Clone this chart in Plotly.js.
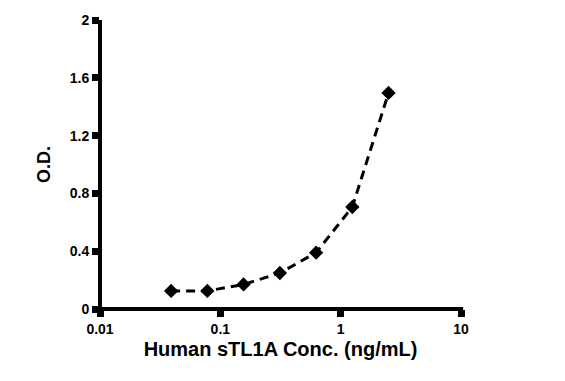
<!DOCTYPE html>
<html><head><script src="https://cdn.plot.ly/plotly-3.0.1.min.js"></script>
<style>body{margin:0}</style></head><body>
<div id="chart" style="width:565px;height:381px"></div>
<script>
const conc = [0.039, 0.078, 0.156, 0.3125, 0.625, 1.25, 2.5];
const od = [0.125, 0.125, 0.17, 0.249, 0.39, 0.706, 1.495];
const xTicks = [0.01, 0.1, 1, 10];
const xTickText = ['0.01', '0.1', '1', '10'];
const yTicks = [0, 0.4, 0.8, 1.2, 1.6, 2];
const yTickText = ['0', '0.4', '0.8', '1.2', '1.6', '2'];

Plotly.newPlot('chart', [{
  x: conc, y: od, type: 'scatter', mode: 'lines+markers',
  line: {color: '#000', width: 3, dash: '9px,6px'},
  marker: {symbol: 'diamond', size: 11, color: '#000'}
}], {
  width: 565, height: 381,
  margin: {l: 100, r: 104, t: 20, b: 72},
  paper_bgcolor: '#fff', plot_bgcolor: '#fff',
  showlegend: false,
  font: {family: 'Liberation Sans', color: '#000'},
  shapes: [
    {type: 'line', xref: 'paper', yref: 'paper', x0: 0, x1: 1.006, y0: 0, y1: 0, line: {color: '#000', width: 4}, layer: 'above'},
    {type: 'line', xref: 'paper', yref: 'paper', x0: 0, x1: 0, y0: -0.008, y1: 1, line: {color: '#000', width: 4}, layer: 'above'}
  ],
  xaxis: {
    type: 'log', range: [-2, 1], tickvals: xTicks, ticktext: xTickText,
    showgrid: false, zeroline: false, showline: false,
    ticks: 'outside', ticklen: 7, tickwidth: 7, tickcolor: '#000',
    tickfont: {size: 14, family: 'Liberation Sans', weight: 700, color: '#000'},
    title: {text: 'Human sTL1A Conc. (ng/mL)', font: {size: 20, weight: 700}, standoff: 6}
  },
  yaxis: {
    range: [0, 2], tickvals: yTicks, ticktext: yTickText,
    showgrid: false, zeroline: false, showline: false,
    ticks: 'outside', ticklen: 7, tickwidth: 7, tickcolor: '#000',
    tickfont: {size: 14, family: 'Liberation Sans', weight: 700, color: '#000'},
    title: {text: 'O.D.', font: {size: 18, weight: 700}, standoff: 14}
  }
}, {displayModeBar: false});
</script></body></html>
